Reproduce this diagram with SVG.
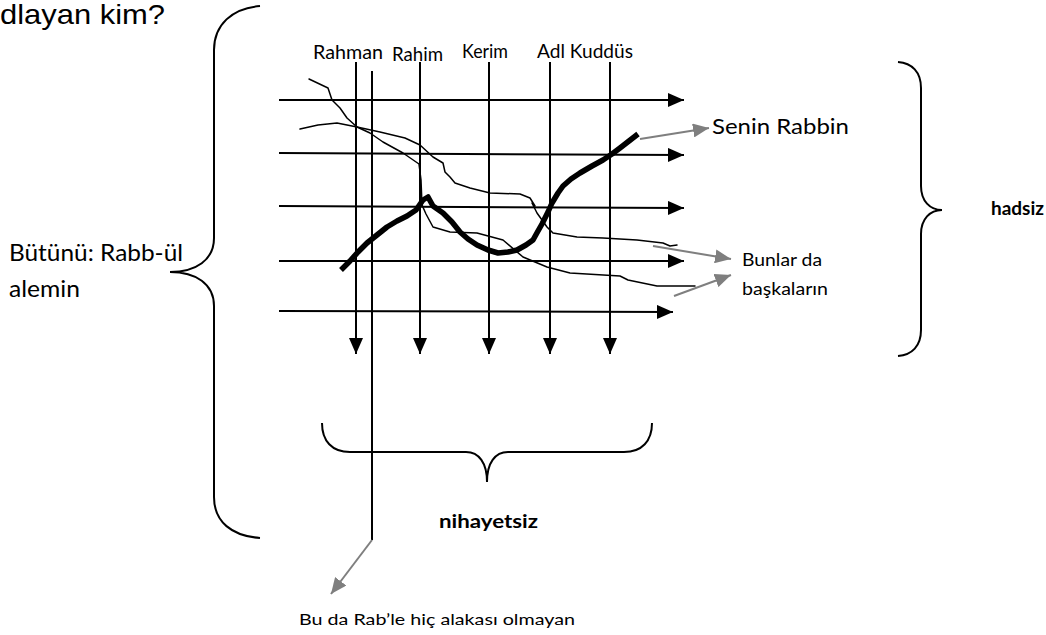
<svg xmlns="http://www.w3.org/2000/svg" width="1046" height="635" viewBox="0 0 1046 635">
<style>
.ln{stroke:#000;stroke-width:2;fill:none}
.br{stroke:#000;stroke-width:2;fill:none}
.gr{stroke:#7f7f7f;stroke-width:2;fill:none}
.thin{stroke:#000;stroke-width:1.5;fill:none;stroke-linejoin:round;stroke-linecap:round}
.thick{stroke:#000;stroke-width:5.5;fill:none;stroke-linejoin:round;stroke-linecap:butt}
.t{font-family:Lato,"Liberation Sans",sans-serif;fill:#000}
.b{font-weight:bold}
</style>
<defs>
<marker id="ah" viewBox="0 0 16 14" refX="16" refY="7" markerWidth="16" markerHeight="14" markerUnits="userSpaceOnUse" orient="auto"><path d="M0,0 L16,7 L0,14 z" fill="#000"/></marker>
<marker id="ga" viewBox="0 0 16 14" refX="16" refY="7" markerWidth="16" markerHeight="14" markerUnits="userSpaceOnUse" orient="auto"><path d="M0,0 L16,7 L0,14 z" fill="#7f7f7f"/></marker>
</defs>
<text x="0" y="24" font-family="Liberation Sans, Arial, sans-serif" font-size="28" textLength="165" lengthAdjust="spacingAndGlyphs">dlayan kim?</text>
<g id="brace-left"><path class="br" d="M260,6 C232,8 214,25 214,50 L214,238 C214,260 196,272 170,272 C196,272 214,284 214,306 L214,497 C214,522 232,536 260,538"/></g>
<g id="brace-right"><path class="br" d="M898,62 C912,63 921,72 921,88 L921,186 C921,201 930,210 942,210 C930,210 921,219 921,234 L921,330 C921,346 912,355 898,356"/></g>
<g id="brace-bottom"><path class="br" d="M322,423 C322,441 332,452 350,452 L466,452 C479,452 487,463 487,482 C487,463 495,452 508,452 L624,452 C642,452 652,441 652,423"/></g>
<g id="connectors">
<line class="ln" x1="279" y1="100" x2="684" y2="100" marker-end="url(#ah)"/>
<line class="ln" x1="279" y1="153" x2="684" y2="155" marker-end="url(#ah)"/>
<line class="ln" x1="279" y1="206" x2="684" y2="208" marker-end="url(#ah)"/>
<line class="ln" x1="279" y1="261" x2="684" y2="261" marker-end="url(#ah)"/>
<line class="ln" x1="279" y1="311" x2="673" y2="312" marker-end="url(#ah)"/>
<line class="ln" x1="356" y1="62" x2="356" y2="354" marker-end="url(#ah)"/>
<line class="ln" x1="420" y1="62" x2="420" y2="354" marker-end="url(#ah)"/>
<line class="ln" x1="489" y1="62" x2="489" y2="354" marker-end="url(#ah)"/>
<line class="ln" x1="550" y1="62" x2="550" y2="354" marker-end="url(#ah)"/>
<line class="ln" x1="610" y1="62" x2="610" y2="354" marker-end="url(#ah)"/>
<line class="ln" x1="372" y1="71" x2="372" y2="540"/>
<polyline class="thin" points="309,79 328,88 332,100 340,108 347,118 357,127 370,133 383,142 403,153 419,164 421,180 422,205 426,214 433,227 450,232 477,233 503,240 523,257 547,267 570,273 620,276 628,280 657,286 695,286"/>
<polyline class="thin" points="300,129 318,125 337,123 357,127 380,132 405,138 420,145 433,157 443,163 445,172 450,177 455,183 470,188 490,193 520,194 530,198 535,206 532,203 537,213 547,227 553,233 577,237 603,238 637,240 663,243 670,246 677,245"/>
<polyline class="thick" points="341,270 350,261 358,252 367,243 377,235 387,227 397,221 407,216 416,210 423,200 428,197 433,206 443,213 452,222 460,232 468,239 477,245 488,250 498,253 508,252 517,250 526,245 533,240 538,231 542,224 548,212 552,203 558,193 563,186 571,179 580,173 592,166 603,160 612,154 620,148 629,141 638,134"/>
<line class="gr" x1="640" y1="139" x2="709" y2="128" marker-end="url(#ga)"/>
<line class="gr" x1="653" y1="246" x2="731" y2="259" marker-end="url(#ga)"/>
<line class="gr" x1="674" y1="296" x2="731" y2="275" marker-end="url(#ga)"/>
<line class="gr" x1="372" y1="540" x2="331" y2="594" marker-end="url(#ga)"/>
</g>
<g id="labels-top">
<text class="t" x="313" y="59" font-size="19" textLength="70" lengthAdjust="spacingAndGlyphs">Rahman</text>
<text class="t" x="392" y="61" font-size="19" textLength="51" lengthAdjust="spacingAndGlyphs">Rahim</text>
<text class="t" x="462" y="58" font-size="19" textLength="46" lengthAdjust="spacingAndGlyphs">Kerim</text>
<text class="t" x="537" y="58" font-size="19" textLength="96" lengthAdjust="spacingAndGlyphs">Adl Kuddüs</text>
</g>
<g id="senin-rabbin"><text class="t" x="712" y="134" font-size="21" textLength="137" lengthAdjust="spacingAndGlyphs">Senin Rabbin</text></g>
<g id="bunlar"><text class="t" x="742" y="266" font-size="17" textLength="80" lengthAdjust="spacingAndGlyphs">Bunlar da</text><text class="t" x="742" y="295" font-size="17" textLength="86" lengthAdjust="spacingAndGlyphs">başkaların</text></g>
<g id="butunu"><text class="t" x="9" y="261" font-size="24" textLength="174" lengthAdjust="spacingAndGlyphs">Bütünü: Rabb-ül</text><text class="t" x="9" y="297" font-size="24" textLength="71" lengthAdjust="spacingAndGlyphs">alemin</text></g>
<g id="hadsiz"><text class="t b" x="991" y="215" font-size="19" textLength="53" lengthAdjust="spacingAndGlyphs">hadsiz</text></g>
<g id="nihayetsiz"><text class="t b" x="439" y="528" font-size="18" textLength="99" lengthAdjust="spacingAndGlyphs">nihayetsiz</text></g>
<g id="bu-da"><text class="t" x="299" y="625" font-size="16" textLength="276" lengthAdjust="spacingAndGlyphs">Bu da Rab’le hiç alakası olmayan</text></g>
</svg>
